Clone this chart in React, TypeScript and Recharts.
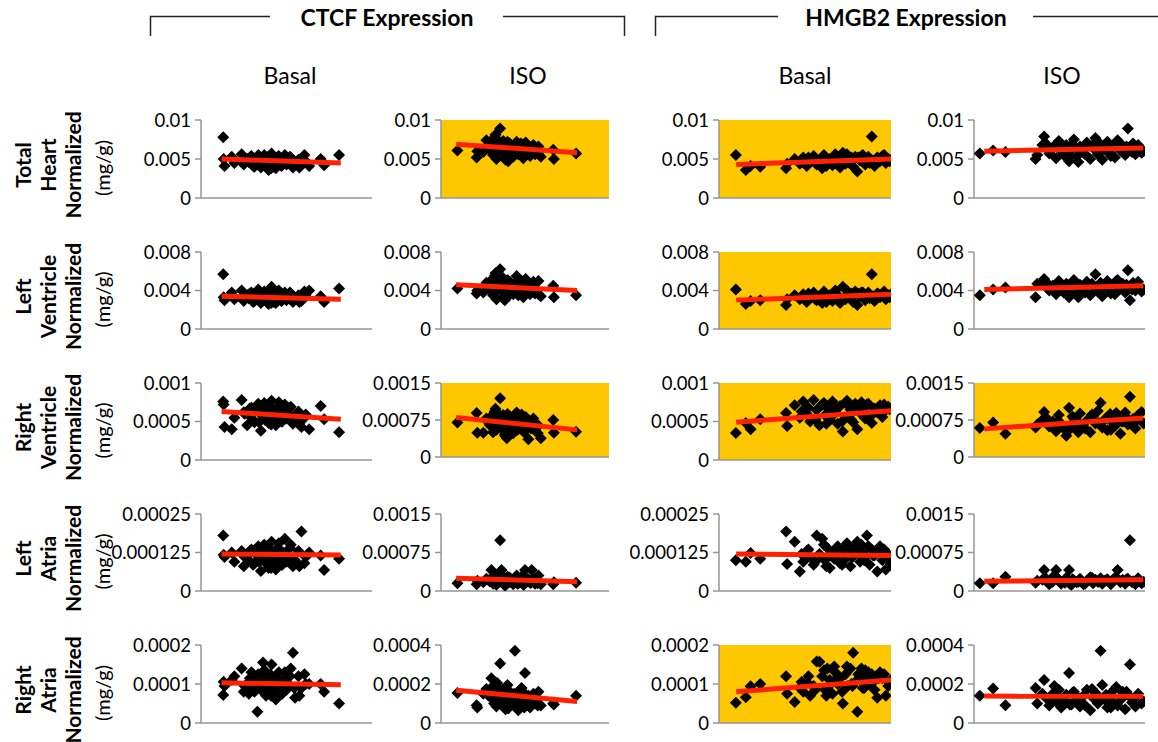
import React from "react";
import { ScatterChart, Scatter, XAxis, YAxis, CartesianGrid } from "recharts";

const FONT = "Lato, 'Open Sans', 'DejaVu Sans', sans-serif";
const AXIS = "#969696";
const TREND = "#FF2200";
const HIGHLIGHT = "#FFC700";

// ---- x values (shared per column) ----
const ctcfBasalX = [0.52,0.53,0.55,0.72,0.78,0.95,1.0,1.08,1.12,1.18,1.22,1.28,1.32,1.36,1.4,1.44,1.48,1.52,1.55,1.58,1.62,1.65,1.68,1.72,1.75,1.8,1.84,1.88,1.92,1.96,2.0,2.05,2.1,2.15,2.2,2.28,2.35,2.42,2.53,2.8,2.88,3.23,1.45,1.7,
  1.02,1.14,1.25,1.34,1.42,1.5,1.57,1.64,1.7,1.77,1.82,1.9,1.98,2.08,2.18,2.3,2.45,1.6];
const ctcfIsoX = [0.49,1.06,1.08,1.26,1.35,1.45,1.5,1.55,1.6,1.65,1.7,1.76,1.8,1.85,1.9,1.96,2.0,2.05,2.1,2.15,2.2,2.25,2.3,2.35,2.4,2.45,2.5,2.55,2.6,2.65,2.7,2.75,2.8,2.85,2.9,2.97,3.34,3.36,4.02,1.62,1.92,2.22,2.52,1.72,
  1.42,1.52,1.58,1.67,1.74,1.82,1.88,1.98,2.08,2.18,2.28,2.38,2.48,2.58,2.68,2.78,2.88,2.02];
const hmgb2BasalX = [0.49,0.78,0.92,1.2,1.95,2.2,2.35,2.45,2.55,2.65,2.75,2.84,2.92,3.0,3.08,3.15,3.22,3.3,3.38,3.45,3.52,3.6,3.68,3.75,3.82,3.9,3.96,4.02,4.1,4.18,4.25,4.3,4.38,4.44,4.52,4.6,4.68,4.75,4.85,4.92,5.0,3.35,3.85,1.98,
  2.4,2.6,2.8,3.05,3.25,3.42,3.58,3.72,3.88,4.05,4.22,4.34,4.48,4.64,4.8,4.96,3.12,4.14];
const hmgb2IsoX = [0.17,0.56,0.92,1.8,1.85,2.05,2.1,2.2,2.3,2.4,2.48,2.55,2.62,2.7,2.78,2.85,2.92,3.0,3.1,3.2,3.3,3.4,3.48,3.55,3.62,3.7,3.75,3.82,3.9,3.98,4.05,4.12,4.2,4.28,4.35,4.42,4.5,4.56,4.65,4.72,4.8,4.9,2.35,3.05,
  2.0,2.25,2.44,2.66,2.88,3.05,3.25,3.45,3.65,3.86,4.0,4.16,4.32,4.46,4.62,4.76,4.96,2.8];

// ---- CTCF basal ----
const ctcfBasalHeart = [0.0078,0.005,0.0041,0.0053,0.0045,0.0056,0.0043,0.005,0.0046,0.0054,0.0041,0.0048,0.0052,0.0044,0.0039,0.005,0.0055,0.0042,0.0047,0.0036,0.0051,0.0057,0.0044,0.0049,0.0038,0.0053,0.0046,0.0041,0.005,0.0055,0.0043,0.0047,0.0052,0.0039,0.0045,0.0049,0.0042,0.0055,0.0041,0.005,0.0042,0.0055,0.0046,0.004,
  0.0047,0.0052,0.004,0.0055,0.0048,0.0044,0.0053,0.0038,0.005,0.0046,0.0054,0.0042,0.0048,0.0053,0.0044,0.0039,0.0047,0.005];
const ctcfBasalLV = [0.0057,0.0033,0.003,0.0038,0.0031,0.004,0.0029,0.0035,0.0032,0.0038,0.0028,0.0034,0.0037,0.0031,0.0027,0.0035,0.0039,0.003,0.0033,0.0026,0.0036,0.0044,0.0031,0.0034,0.0027,0.0037,0.0032,0.0029,0.0035,0.0038,0.003,0.0033,0.0037,0.0028,0.0032,0.0035,0.0029,0.0039,0.004,0.0034,0.0028,0.0042,0.0033,0.0028,
  0.0033,0.0037,0.0029,0.0041,0.0034,0.0031,0.0038,0.0027,0.0036,0.0032,0.004,0.003,0.0034,0.0038,0.0031,0.0028,0.0034,0.0036];
const ctcfBasalRV = [0.00076,0.00072,0.00043,0.0004,0.00055,0.00078,0.00062,0.00045,0.00058,0.00068,0.00052,0.00064,0.00071,0.00049,0.00038,0.0006,0.00074,0.00055,0.00066,0.00048,0.0007,0.00077,0.00053,0.00062,0.00045,0.00068,0.00057,0.0005,0.00064,0.00072,0.00054,0.0006,0.00069,0.00047,0.00058,0.00063,0.00043,0.00055,0.0004,0.0007,0.00053,0.00036,0.00066,0.0005,
  0.0006,0.00067,0.00049,0.00073,0.00058,0.00052,0.0007,0.00046,0.00065,0.00061,0.00075,0.0005,0.00063,0.00068,0.00056,0.00048,0.00059,0.00066];
const ctcfBasalLA = [0.00018,0.000118,0.00011,0.000125,0.000095,0.00013,0.00008,0.000115,0.0001,0.000135,0.000085,0.00012,0.00014,0.000095,0.000065,0.000125,0.00015,0.00009,0.00011,0.000075,0.000135,0.00016,0.0001,0.00012,0.00007,0.00014,0.000105,0.000085,0.000125,0.00017,0.000095,0.00011,0.00015,0.00008,0.0001,0.00013,0.000193,0.00009,0.000125,0.000115,0.000068,0.000105,0.000145,0.0001,
  0.00011,0.00013,0.00009,0.000145,0.000115,0.0001,0.000135,0.000075,0.000125,0.000105,0.000155,0.000085,0.00012,0.00014,0.0001,0.00008,0.00011,0.00013];
const ctcfBasalRA = [0.000072,0.000106,0.000095,0.00011,0.00012,0.00014,0.00008,0.0001,0.000075,0.00013,0.00009,0.000105,0.000029,0.00012,0.000085,0.0001,0.000135,0.00007,0.00011,0.00009,0.000125,0.00015,0.00008,0.000105,0.00006,0.000115,0.000095,0.000075,0.00011,0.00013,0.000085,0.0001,0.00014,0.00018,0.000065,0.00012,0.00009,0.000125,0.0001,0.0001,0.00008,0.00005,0.000155,0.000095,
  0.000095,0.000115,0.00008,0.000125,0.0001,0.00009,0.00012,0.00007,0.00011,0.000095,0.00013,0.000075,0.000105,0.00012,0.00009,0.00007,0.0001,0.000115];

// ---- CTCF ISO ----
const ctcfIsoHeart = [0.0061,0.0052,0.006,0.0059,0.0074,0.0066,0.0071,0.0055,0.0078,0.005,0.0068,0.0089,0.0062,0.0073,0.0057,0.0065,0.0047,0.007,0.006,0.0053,0.0067,0.0072,0.0056,0.0063,0.0069,0.0051,0.0064,0.0058,0.0066,0.0054,0.0062,0.0068,0.0056,0.006,0.0066,0.0053,0.0062,0.005,0.0057,0.0081,0.0049,0.0058,0.0071,0.0063,
  0.0064,0.007,0.0058,0.0075,0.0063,0.0068,0.0055,0.0072,0.0061,0.0066,0.0059,0.007,0.0057,0.0064,0.006,0.0063,0.0058,0.0067];
const ctcfIsoLV = [0.0042,0.0037,0.004,0.0038,0.0048,0.0044,0.0051,0.0035,0.0055,0.0031,0.0046,0.0062,0.004,0.0053,0.003,0.0043,0.0034,0.0049,0.0039,0.0036,0.0047,0.0055,0.0035,0.0042,0.005,0.0033,0.0045,0.0038,0.0048,0.0036,0.0041,0.0049,0.0037,0.004,0.005,0.0034,0.0045,0.0033,0.0035,0.0058,0.0032,0.0041,0.0052,0.0044,
  0.0043,0.0049,0.0037,0.0053,0.0042,0.0047,0.0034,0.0051,0.004,0.0045,0.0038,0.0048,0.0036,0.0043,0.0039,0.0042,0.0037,0.0046];
const ctcfIsoRV = [0.0007,0.00089,0.00049,0.00049,0.00078,0.00065,0.0008,0.0005,0.00092,0.00055,0.00072,0.00119,0.00068,0.00085,0.00045,0.00038,0.0006,0.00082,0.0007,0.00048,0.00076,0.0009,0.00058,0.00066,0.00086,0.00052,0.00074,0.00061,0.00036,0.00069,0.00063,0.00078,0.00055,0.0006,0.00064,0.00038,0.00075,0.00049,0.00051,0.00098,0.00042,0.00057,0.00081,0.00073,
  0.0007,0.00084,0.00057,0.0009,0.00066,0.00077,0.00052,0.00087,0.00063,0.00074,0.00055,0.0008,0.0005,0.00069,0.00058,0.00066,0.00048,0.00075];
const ctcfIsoLA = [0.00015,0.00013,0.0002,0.00017,0.00024,0.00019,0.00041,0.00014,0.00025,0.00012,0.00022,0.00099,0.00041,0.00028,0.00011,0.0002,0.00016,0.00026,0.00019,0.00013,0.00024,0.0003,0.00015,0.00021,0.00027,0.00012,0.00041,0.00018,0.00023,0.00016,0.00041,0.00025,0.00014,0.0002,0.0003,0.00013,0.00013,0.00017,0.00016,0.00029,0.00011,0.00019,0.00026,0.00022,
  0.00021,0.00026,0.00015,0.00029,0.00019,0.00024,0.00012,0.00028,0.00017,0.00023,0.00014,0.00027,0.00013,0.0002,0.00016,0.00022,0.00015,0.00025];
const ctcfIsoRA = [0.000154,0.000091,0.00008,0.00015,0.000175,0.00016,0.00023,0.00012,0.00019,0.000085,0.00014,0.000305,0.00011,0.00017,0.000095,0.00013,0.000075,0.00016,0.00012,0.0001,0.00037,0.00015,0.000065,0.000125,0.00018,0.00009,0.000256,0.00011,0.00014,0.00008,0.00012,0.00015,0.0001,0.00013,0.00016,0.00009,0.0001,0.000095,0.00014,0.0002,0.00007,0.000115,0.000145,0.000175,
  0.00014,0.000185,0.0001,0.000205,0.00013,0.000165,0.000085,0.000195,0.000115,0.00015,0.000095,0.000175,0.00008,0.000135,0.000105,0.000145,0.00009,0.00016];

// ---- HMGB2 basal ----
const hmgb2BasalHeart = [0.0055,0.0036,0.0041,0.004,0.0038,0.005,0.0044,0.0052,0.0041,0.0047,0.0054,0.0043,0.0049,0.0038,0.0053,0.0045,0.005,0.0042,0.0056,0.0047,0.0039,0.0058,0.0044,0.0051,0.0046,0.004,0.0053,0.0034,0.0048,0.0055,0.0043,0.005,0.0045,0.0079,0.0041,0.0052,0.0047,0.0054,0.0045,0.005,0.0049,0.0046,0.0052,0.0044,
  0.0047,0.0052,0.0045,0.0055,0.0048,0.0051,0.0044,0.0056,0.0049,0.0052,0.0046,0.0053,0.0048,0.0051,0.0055,0.0047,0.0041,0.0054];
const hmgb2BasalLV = [0.0041,0.0026,0.0029,0.003,0.0025,0.0035,0.0031,0.0036,0.0028,0.0033,0.0038,0.003,0.0034,0.0027,0.0037,0.0032,0.0035,0.0029,0.004,0.0033,0.0027,0.0044,0.0031,0.0036,0.0032,0.0028,0.0039,0.0025,0.0034,0.0038,0.003,0.0035,0.0032,0.0057,0.0029,0.0037,0.0033,0.0036,0.0031,0.0035,0.0036,0.0033,0.0037,0.0031,
  0.0033,0.0037,0.0031,0.0039,0.0034,0.0036,0.003,0.004,0.0034,0.0037,0.0032,0.0038,0.0034,0.0036,0.0039,0.0033,0.0028,0.0038];
const hmgb2BasalRV = [0.00035,0.00048,0.0004,0.00053,0.00061,0.00071,0.00055,0.00076,0.0006,0.0005,0.00078,0.00065,0.00045,0.00072,0.00058,0.00068,0.00052,0.00076,0.00063,0.00047,0.0007,0.00037,0.00074,0.00057,0.00066,0.00049,0.00073,0.0004,0.00061,0.00069,0.00054,0.00072,0.00058,0.00048,0.00067,0.00062,0.00071,0.00056,0.00065,0.00069,0.00067,0.0006,0.00052,0.00044,
  0.00063,0.00068,0.00053,0.00074,0.00061,0.00066,0.0005,0.00077,0.00062,0.0007,0.00057,0.00073,0.0006,0.00064,0.00072,0.00066,0.00047,0.00075];
const hmgb2BasalLA = [0.0001,0.000095,0.000123,0.000105,0.000193,0.00016,0.000063,0.000095,0.00013,0.00011,0.000085,0.00018,0.00012,0.00017,0.0001,0.00014,0.000075,0.000125,0.00011,0.000145,0.00009,0.00013,0.000105,0.00015,0.00008,0.00012,0.00014,0.00016,0.000095,0.000125,0.00011,0.00018,0.000085,0.000135,0.000115,0.000063,0.000145,0.0001,0.00007,0.00012,0.00009,0.000105,0.00013,0.000088,
  0.00012,0.000135,0.000095,0.00015,0.000115,0.000125,0.000085,0.000155,0.00011,0.00014,0.0001,0.000145,0.000115,0.000125,0.000135,0.000105,0.00008,0.00015];
const hmgb2BasalRA = [0.000052,0.000066,0.000094,0.0001,0.00012,0.000054,0.00009,0.00008,0.000105,0.00007,0.000095,0.000158,0.000157,0.00012,0.000085,0.00014,0.00011,0.000075,0.00013,0.0001,0.000115,0.00005,0.000125,0.000095,0.00014,0.00018,0.000105,0.000029,0.00012,0.00009,0.000135,0.00011,0.0001,0.000125,0.000085,0.000065,0.00013,0.000115,0.00007,0.000095,0.00011,0.000145,0.0001,0.000075,
  0.000105,0.00012,0.000085,0.000135,0.0001,0.000115,0.00008,0.000145,0.000095,0.000125,0.00009,0.00013,0.000105,0.000115,0.000125,0.0001,0.00007,0.00014];

// ---- HMGB2 ISO ----
const hmgb2IsoHeart = [0.0057,0.0061,0.0059,0.005,0.0055,0.0079,0.007,0.0057,0.0064,0.0051,0.0073,0.006,0.0055,0.0068,0.0047,0.0062,0.0075,0.0053,0.0066,0.0058,0.0071,0.005,0.0064,0.0077,0.0056,0.0069,0.0049,0.0062,0.0072,0.0058,0.0066,0.0052,0.0074,0.0061,0.0067,0.0055,0.0089,0.0063,0.007,0.0056,0.0068,0.0058,0.0067,0.0046,
  0.0068,0.0061,0.0066,0.0059,0.0069,0.0063,0.0056,0.0067,0.006,0.0065,0.0054,0.007,0.0062,0.0066,0.0059,0.0064,0.006,0.0054];
const hmgb2IsoLV = [0.0035,0.0041,0.0043,0.0033,0.0047,0.0052,0.0049,0.004,0.0045,0.0036,0.005,0.0042,0.0038,0.0047,0.0033,0.0044,0.0051,0.0037,0.0046,0.0041,0.0049,0.0035,0.0044,0.0057,0.0039,0.0048,0.0034,0.0043,0.005,0.004,0.0046,0.0036,0.0051,0.0042,0.0047,0.0038,0.0061,0.003,0.0048,0.004,0.0049,0.0039,0.0045,0.0033,
  0.0048,0.0043,0.0046,0.004,0.0048,0.0044,0.0038,0.0047,0.0042,0.0045,0.0037,0.005,0.0043,0.0046,0.0041,0.0045,0.0041,0.0037];
const hmgb2IsoRV = [0.00059,0.0007,0.00047,0.0006,0.00066,0.00091,0.0008,0.00062,0.00072,0.00052,0.00085,0.00068,0.00058,0.00043,0.001,0.00065,0.00078,0.00055,0.00088,0.00062,0.00074,0.0005,0.00083,0.00068,0.00093,0.0011,0.0006,0.00076,0.00054,0.00087,0.0007,0.00063,0.00081,0.00047,0.00072,0.0009,0.00066,0.00122,0.00077,0.00058,0.00085,0.00091,0.00064,0.0005,
  0.00075,0.00067,0.00071,0.0006,0.00082,0.0007,0.00058,0.00086,0.00069,0.00078,0.00055,0.00089,0.00072,0.0008,0.00065,0.00075,0.00068,0.00056];
const hmgb2IsoLA = [0.00015,0.00015,0.00028,0.00016,0.0002,0.00041,0.00025,0.00013,0.00018,0.00041,0.00022,0.00014,0.00019,0.00026,0.00041,0.00012,0.00021,0.00017,0.00024,0.00013,0.0002,0.00027,0.00015,0.00022,0.00018,0.00025,0.00014,0.0002,0.00023,0.00016,0.00021,0.00026,0.00041,0.00017,0.00022,0.00014,0.00024,0.00099,0.00019,0.00013,0.00025,0.00015,0.0003,0.00018,
  0.00022,0.00018,0.00025,0.00016,0.00023,0.00019,0.00014,0.00026,0.00018,0.00021,0.00013,0.00027,0.0002,0.00023,0.00017,0.00022,0.00018,0.00014];
const hmgb2IsoRA = [0.00014,0.000177,0.000091,0.00018,0.0001,0.00022,0.00013,0.00009,0.00015,0.00011,0.00017,0.00008,0.000125,0.000145,0.000256,0.000095,0.00016,0.00012,0.000085,0.00014,0.00017,0.000065,0.00013,0.000155,0.0001,0.00037,0.000195,0.00012,0.00008,0.00015,0.00011,0.000175,0.00009,0.000135,0.00016,0.00007,0.000145,0.0003,0.00012,0.000085,0.00015,0.0001,0.00019,0.000115,
  0.00015,0.00012,0.000165,0.0001,0.000155,0.00013,0.00009,0.000175,0.000115,0.000145,0.00008,0.000185,0.000125,0.00016,0.000105,0.00014,0.00011,0.000095];

// ---- trend lines (y at start, y at end) ----
const ctcfBasalTrendX = [0.48, 3.27];
const ctcfIsoTrendX = [0.45, 4.05];
const hmgb2BasalTrendX = [0.5, 5.0];
const hmgb2IsoTrendX = [0.3, 4.95];
const ctcfBasalTrend = [[0.005, 0.0045], [0.0034, 0.0031], [0.00063, 0.00053], [0.00012, 0.000117], [0.000103, 0.000098]];
const ctcfIsoTrend = [[0.0069, 0.0058], [0.0046, 0.004], [0.0008, 0.00055], [0.00025, 0.00018], [0.000168, 0.00011]];
const hmgb2BasalTrend = [[0.0043, 0.005], [0.003, 0.0036], [0.00049, 0.00064], [0.00012, 0.000115], [0.00008, 0.00011]];
const hmgb2IsoTrend = [[0.006, 0.0064], [0.0041, 0.0045], [0.00057, 0.00079], [0.00019, 0.00022], [0.000138, 0.000137]];

// ---- y axis ticks ----
const heartTicks = [0, 0.005, 0.01];
const lvTicks = [0, 0.004, 0.008];
const rvBasalTicks = [0, 0.0005, 0.001];
const rvIsoTicks = [0, 0.00075, 0.0015];
const laBasalTicks = [0, 0.000125, 0.00025];
const laIsoTicks = [0, 0.00075, 0.0015];
const raBasalTicks = [0, 0.0001, 0.0002];
const raIsoTicks = [0, 0.0002, 0.0004];

// ---- labels ----
const geneTitles = ["CTCF Expression", "HMGB2 Expression"];
const conditionLabels = ["Basal", "ISO", "Basal", "ISO"];
const tissueLabels = [["Total", "Heart"], ["Left", "Ventricle"], ["Right", "Ventricle"], ["Left", "Atria"], ["Right", "Atria"]];
const highlighted = [
  [false, true, true, false],
  [false, false, true, false],
  [false, true, true, true],
  [false, false, false, false],
  [false, false, true, false],
];

const columns = [
  { xs: ctcfBasalX, intervals: 4, trendX: ctcfBasalTrendX, ys: [ctcfBasalHeart, ctcfBasalLV, ctcfBasalRV, ctcfBasalLA, ctcfBasalRA], trend: ctcfBasalTrend, ticks: [heartTicks, lvTicks, rvBasalTicks, laBasalTicks, raBasalTicks] },
  { xs: ctcfIsoX, intervals: 5, trendX: ctcfIsoTrendX, ys: [ctcfIsoHeart, ctcfIsoLV, ctcfIsoRV, ctcfIsoLA, ctcfIsoRA], trend: ctcfIsoTrend, ticks: [heartTicks, lvTicks, rvIsoTicks, laIsoTicks, raIsoTicks] },
  { xs: hmgb2BasalX, intervals: 5, trendX: hmgb2BasalTrendX, ys: [hmgb2BasalHeart, hmgb2BasalLV, hmgb2BasalRV, hmgb2BasalLA, hmgb2BasalRA], trend: hmgb2BasalTrend, ticks: [heartTicks, lvTicks, rvBasalTicks, laBasalTicks, raBasalTicks] },
  { xs: hmgb2IsoX, intervals: 5, trendX: hmgb2IsoTrendX, ys: [hmgb2IsoHeart, hmgb2IsoLV, hmgb2IsoRV, hmgb2IsoLA, hmgb2IsoRA], trend: hmgb2IsoTrend, ticks: [heartTicks, lvTicks, rvIsoTicks, laIsoTicks, raIsoTicks] },
];

// layout (pixel frame of each plot area)
const colFrames = [
  { left: 201, right: 372 },
  { left: 441, right: 609 },
  { left: 719, right: 891 },
  { left: 974, right: 1145 },
];
const rowFrames = [
  { top: 120, bottom: 198 },
  { top: 252, bottom: 329 },
  { top: 383, bottom: 460 },
  { top: 514, bottom: 591 },
  { top: 645, bottom: 723 },
];

const AXIS_W = 110;
const TOP_PAD = 10;
const RIGHT_PAD = 12;
const X_AXIS_H = 12;

const Diamond = (props: any) => {
  const { cx, cy } = props;
  if (cx == null || cy == null) return <g />;
  const r = 6;
  return <path d={`M${cx},${cy - r}L${cx + r},${cy}L${cx},${cy + r}L${cx - r},${cy}Z`} fill="#000" />;
};

const NoShape = () => <g />;

function Panel({ c, r }: { c: number; r: number }) {
  const col = columns[c];
  const cf = colFrames[c];
  const rf = rowFrames[r];
  const ticks = col.ticks[r];
  let bottom = rf.bottom;
  if (r === 2 && (c === 1 || c === 3)) bottom = 457;
  const plotW = cf.right - cf.left;
  const plotH = bottom - rf.top;
  const ys = col.ys[r];
  const points = col.xs.map((x, i) => ({ x, y: ys[i] }));
  const trendPts = [
    { x: col.trendX[0], y: col.trend[r][0] },
    { x: col.trendX[1], y: col.trend[r][1] },
  ];
  const xTicks = Array.from({ length: col.intervals + 1 }, (_, i) => i);
  const yMax = ticks[ticks.length - 1];
  return (
    <div style={{ position: "absolute", left: cf.left - AXIS_W, top: rf.top - TOP_PAD }}>
      <ScatterChart
        width={plotW + AXIS_W + RIGHT_PAD}
        height={plotH + TOP_PAD + X_AXIS_H}
        margin={{ top: TOP_PAD, right: RIGHT_PAD, bottom: 0, left: 0 }}
      >
        {highlighted[r][c] && (
          <CartesianGrid horizontal={false} vertical={false} fill={HIGHLIGHT} fillOpacity={1} stroke="none" />
        )}
        <XAxis
          type="number"
          dataKey="x"
          domain={[0, col.intervals]}
          ticks={xTicks}
          interval={0}
          allowDataOverflow
          height={X_AXIS_H}
          tick={false}
          tickSize={6}
          axisLine={{ stroke: AXIS, strokeWidth: 1.5 }}
          tickLine={{ stroke: AXIS, strokeWidth: 1.5 }}
        />
        <YAxis
          type="number"
          dataKey="y"
          domain={[0, yMax]}
          ticks={ticks}
          interval={0}
          allowDataOverflow
          width={AXIS_W}
          tickSize={6}
          tickMargin={4}
          tickFormatter={(v: number) => String(v)}
          tick={{ fill: "#000", fontSize: 18.5, fontFamily: FONT }}
          axisLine={{ stroke: AXIS, strokeWidth: 1.5 }}
          tickLine={{ stroke: AXIS, strokeWidth: 1.5 }}
        />
        <Scatter data={points} shape={Diamond} isAnimationActive={false} />
        <Scatter
          data={trendPts}
          shape={NoShape}
          line={{ stroke: TREND, strokeWidth: 5 }}
          isAnimationActive={false}
        />
      </ScatterChart>
    </div>
  );
}

export default function App() {
  return (
    <div style={{ position: "absolute", left: 0, top: 0, width: 1158, height: 742, background: "#fff", overflow: "hidden", fontFamily: FONT }}>
      <svg width={1158} height={742} style={{ position: "absolute", left: 0, top: 0 }}>
        <path d="M150.5,36 V16.5 H270 M503,16.5 H624.5 V36" fill="none" stroke="#222" strokeWidth={1.5} />
        <path d="M655.5,36 V16.5 H778 M1033,16.5 H1158" fill="none" stroke="#222" strokeWidth={1.5} />
        <text x={387} y={26} textAnchor="middle" fontSize={23} fontWeight="bold" fontFamily={FONT} fill="#000">{geneTitles[0]}</text>
        <text x={906} y={26} textAnchor="middle" fontSize={23} fontWeight="bold" fontFamily={FONT} fill="#000">{geneTitles[1]}</text>
        {[290, 528, 805, 1062].map((cx, i) => (
          <text key={i} x={cx} y={84} textAnchor="middle" fontSize={23} fontFamily={FONT} fill="#000">{conditionLabels[i]}</text>
        ))}
        {tissueLabels.map((lines, r) => {
          const cy = (rowFrames[r].top + rowFrames[r].bottom) / 2;
          const yb = cy + 6;
          const ym = cy + 9;
          return (
            <g key={r}>
              {[lines[0], lines[1], "Normalized"].map((t, k) => {
                const x = 22 + k * 25;
                return (
                  <text key={k} x={x} y={yb} transform={`rotate(-90 ${x} ${yb})`} textAnchor="middle" dominantBaseline="central" fontSize={21} fontWeight="bold" fontFamily={FONT} fill="#000">{t}</text>
                );
              })}
              <text x={102} y={ym} transform={`rotate(-90 102 ${ym})`} textAnchor="middle" dominantBaseline="central" fontSize={20} fontFamily={FONT} fill="#000">(mg/g)</text>
            </g>
          );
        })}
      </svg>
      {rowFrames.map((_, r) => columns.map((__, c) => <Panel key={`${r}-${c}`} c={c} r={r} />))}
    </div>
  );
}
